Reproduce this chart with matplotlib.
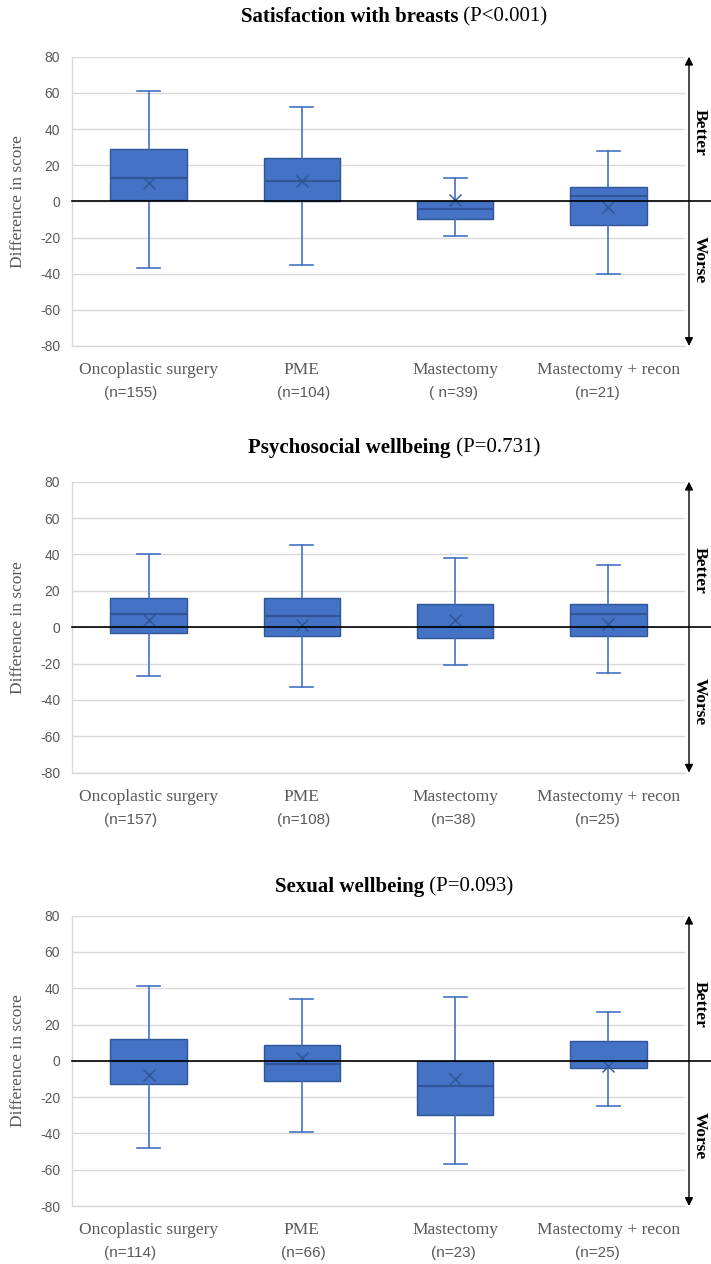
import matplotlib
matplotlib.use("Agg")
import matplotlib.pyplot as plt
from matplotlib.transforms import blended_transform_factory

# ---------------- data ----------------
categories = ["Oncoplastic surgery", "PME", "Mastectomy", "Mastectomy + recon"]
titles = ["Satisfaction with breasts", "Psychosocial wellbeing", "Sexual wellbeing"]
pvalues = ["(P<0.001)", "(P=0.731)", "(P=0.093)"]
n_sat = ["(n=155)", "(n=104)", "( n=39)", "(n=21)"]
n_psy = ["(n=157)", "(n=108)", "(n=38)", "(n=25)"]
n_sex = ["(n=114)", "(n=66)", "(n=23)", "(n=25)"]

sat_low = [-37, -35, -19, -40]
sat_q1 = [1, 0, -10, -13]
sat_med = [13, 11, -4, 3]
sat_q3 = [29, 24, 0, 8]
sat_high = [61, 52, 13, 28]
sat_mean = [10, 11, 1, -3]

psy_low = [-27, -33, -21, -25]
psy_q1 = [-3, -5, -6, -5]
psy_med = [7, 6, 0, 7]
psy_q3 = [16, 16, 13, 13]
psy_high = [40, 45, 38, 34]
psy_mean = [4, 1, 4, 2]

sex_low = [-48, -39, -57, -25]
sex_q1 = [-13, -11, -30, -4]
sex_med = [0, -2, -14, 0]
sex_q3 = [12, 9, 0, 11]
sex_high = [41, 34, 35, 27]
sex_mean = [-8, 1.5, -10, -3]

yticks = [-80, -60, -40, -20, 0, 20, 40, 60, 80]

panels = [
    (titles[0], pvalues[0], n_sat, sat_low, sat_q1, sat_med, sat_q3, sat_high, sat_mean),
    (titles[1], pvalues[1], n_psy, psy_low, psy_q1, psy_med, psy_q3, psy_high, psy_mean),
    (titles[2], pvalues[2], n_sex, sex_low, sex_q1, sex_med, sex_q3, sex_high, sex_mean),
]

# ---------------- layout / style ----------------
W, H = 711, 1264
fig = plt.figure(figsize=(W / 100, H / 100), dpi=100)
SERIF = ["Liberation Serif", "DejaVu Serif"]
SANS = ["Liberation Sans", "DejaVu Sans"]
GRAY = "#595959"
BLUE = "#4472C4"
DARK = "#2F5597"

ax_top_px = [56.7, 481.7, 915.7]
ax_bot_px = [346.0, 772.7, 1206.0]
title_px = [17, 448, 887]
better_y = [38, 31, 31]
worse_y = [-32, -41, -41]
n_offsets = [-0.12, 0.01, -0.01, -0.07]
left_px, right_px = 72, 685

titles_art = []
for k, (ttl, pv, nlab, lo, q1, med, q3, hi, mn) in enumerate(panels):
    b = (H - ax_bot_px[k]) / H
    h = (ax_bot_px[k] - ax_top_px[k]) / H
    ax = fig.add_axes([left_px / W, b, (right_px - left_px) / W, h])
    stats = []
    for i in range(len(categories)):
        stats.append(dict(whislo=lo[i], q1=q1[i], med=med[i], q3=q3[i],
                          whishi=hi[i], mean=mn[i], fliers=[], label=categories[i]))
    pos = list(range(1, len(categories) + 1))
    ax.bxp(stats, positions=pos, widths=0.5, capwidths=0.15, patch_artist=True,
           showmeans=True, showfliers=False,
           boxprops=dict(facecolor=BLUE, edgecolor=DARK, linewidth=1.0),
           medianprops=dict(color=DARK, linewidth=1.5),
           whiskerprops=dict(color=BLUE, linewidth=1.2),
           capprops=dict(color=BLUE, linewidth=1.2),
           meanprops=dict(marker="x", markeredgecolor=DARK, markersize=9,
                          markeredgewidth=1.0),
           zorder=3)
    ax.set_xlim(0.5, 4.5)
    ax.set_ylim(-80, 80)
    ax.set_yticks(yticks)
    ax.set_yticklabels([str(v) for v in yticks], fontfamily=SANS, fontsize=10, color=GRAY)
    ax.tick_params(axis="y", length=0, pad=8.5)
    ax.set_xticks([])
    ax.grid(axis="y", color="#D9D9D9", linewidth=1.0, zorder=0)
    ax.set_axisbelow(True)
    for s in ["top", "right"]:
        ax.spines[s].set_visible(False)
    for s in ["left", "bottom"]:
        ax.spines[s].set_color("#D9D9D9")
        ax.spines[s].set_linewidth(1.0)

    # zero line extending to right edge
    ax.axhline(0, xmin=0, xmax=(W - left_px) / (right_px - left_px), color="black",
               linewidth=1.2, clip_on=False, zorder=5)

    # category & n labels
    for i, c in enumerate(categories):
        ax.annotate(c, xy=(pos[i], -80), xycoords="data", xytext=(0, -17.3),
                    textcoords="offset points", ha="center", va="center",
                    fontfamily=SERIF, fontsize=12.5, color=GRAY, annotation_clip=False)
        ax.annotate(nlab[i], xy=(pos[i] + n_offsets[i], -80), xycoords="data",
                    xytext=(0, -33.8), textcoords="offset points", ha="center",
                    va="center", fontfamily=SANS, fontsize=11, color=GRAY,
                    annotation_clip=False)

    # better/worse arrow
    ax_x_arrow = (689 - left_px) / (right_px - left_px)
    ax.annotate("", xy=(ax_x_arrow, 1), xytext=(ax_x_arrow, 0), xycoords="axes fraction",
                arrowprops=dict(arrowstyle="<|-|>", color="black", lw=1.0,
                                mutation_scale=12, shrinkA=0, shrinkB=0),
                annotation_clip=False)
    tr = blended_transform_factory(ax.transAxes, ax.transData)
    tx = (700 - left_px) / (right_px - left_px)
    ax.text(tx, better_y[k], "Better", transform=tr, rotation=-90, ha="center",
            va="center", fontfamily=SERIF, fontweight="bold", fontsize=12.5,
            clip_on=False)
    ax.text(tx, worse_y[k], "Worse", transform=tr, rotation=-90, ha="center",
            va="center", fontfamily=SERIF, fontweight="bold", fontsize=12.5,
            clip_on=False)

    # y label
    fig.text(18 / W, 1 - (ax_top_px[k] + ax_bot_px[k]) / 2 / H, "Difference in score",
             rotation=90, ha="center", va="center", fontfamily=SERIF, fontsize=12.5,
             color=GRAY)

    # title: bold part + regular part
    yt = 1 - title_px[k] / H
    t1 = fig.text(0, yt, ttl, fontfamily=SERIF, fontweight="bold", fontsize=15,
                  ha="left", va="center")
    t2 = fig.text(0, yt, "\u00a0" + pv, fontfamily=SERIF, fontsize=15,
                  ha="left", va="center")
    titles_art.append((t1, t2))

fig.canvas.draw()
r = fig.canvas.get_renderer()
for t1, t2 in titles_art:
    w1 = t1.get_window_extent(r).width
    w2 = t2.get_window_extent(r).width
    x0 = 394 - (w1 + w2) / 2
    y = t1.get_position()[1]
    t1.set_position((x0 / W, y))
    t2.set_position(((x0 + w1) / W, y))

fig.savefig("out.png", dpi=100)
